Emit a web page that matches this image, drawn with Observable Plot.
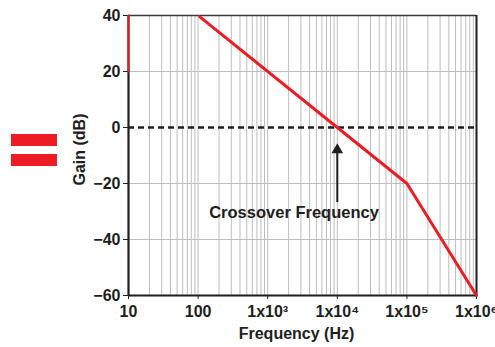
<!DOCTYPE html>
<html>
<head>
<meta charset="utf-8">
<script src="https://cdn.jsdelivr.net/npm/d3@7"></script>
<script src="https://cdn.jsdelivr.net/npm/@observablehq/plot@0.6"></script>
<style>
  html, body { margin: 0; padding: 0; background: #fff; }
  #wrap { position: relative; width: 495px; height: 347px; overflow: hidden; }
  .eq { position: absolute; left: 11px; width: 46px; height: 12px; background: #ed1c24; }
</style>
</head>
<body>
<div id="wrap">
  <div class="eq" style="top:134px"></div>
  <div class="eq" style="top:154px"></div>
</div>
<script>
// Gain curve (asymptotic Bode plot)
const freq = [105, 1e4, 1e5, 1e6];
const gain = [39.6, 0, -20, -60];
// short red segment on the left edge
const edgeFreq = [10, 10];
const edgeGain = [20, 40];
// annotation
const crossFreq = 1e4;
const arrowFrom = -26.8;
const arrowTip = -8;
const noteFreq = 2390;
const noteGain = -30.6;
const noteText = "Crossover Frequency";
// ticks
const xTicks = [10, 100, 1e3, 1e4, 1e5, 1e6];
const xTickLabels = ["10", "100", "1x10³", "1x10⁴", "1x10⁵", "1x10⁶"];
const yTicks = [-60, -40, -20, 0, 20, 40];
const yGrid = [20, -20, -40];

const gridX = [];
for (let e = 1; e < 6; e++) for (let m = 2; m <= 10; m++) gridX.push(m * Math.pow(10, e));

const curve = freq.map((f, i) => ({f, g: gain[i]}));
const edge = edgeFreq.map((f, i) => ({f, g: edgeGain[i]}));
const red = "#ed1c24";
const ink = "#1e1e1e";

const chart = Plot.plot({
  width: 495,
  height: 347,
  marginLeft: 128,
  marginRight: 19,
  marginTop: 15,
  marginBottom: 52,
  x: {type: "log", domain: [10, 1e6]},
  y: {domain: [-60, 40]},
  style: {fontFamily: "'Liberation Sans', Arial, sans-serif", fontWeight: "bold", fontSize: "16px", color: ink, background: "transparent"},
  marks: [
    Plot.ruleX(gridX, {stroke: "#bdbdbd", strokeWidth: 1}),
    Plot.ruleY(yGrid, {stroke: "#bdbdbd", strokeWidth: 1}),
    Plot.ruleY([0], {stroke: ink, strokeWidth: 2.5, strokeDasharray: "6,4"}),
    Plot.axisX({ticks: xTicks, tickFormat: d => xTickLabels[xTicks.indexOf(d)], tickSize: 4, tickPadding: 6, label: null, stroke: ink}),
    Plot.axisY({ticks: yTicks, tickSize: 5, tickPadding: 3, label: null, stroke: ink}),
    Plot.ruleY([40], {stroke: "#3a3a3a", strokeWidth: 1.5}),
    Plot.ruleX([1e6], {stroke: ink, strokeWidth: 2}),
    Plot.ruleX([10], {stroke: ink, strokeWidth: 2.2}),
    Plot.ruleY([-60], {stroke: ink, strokeWidth: 2.2}),
    Plot.line(edge, {x: "f", y: "g", stroke: red, strokeWidth: 2}),
    Plot.line(curve, {x: "f", y: "g", stroke: red, strokeWidth: 3}),
    Plot.ruleX([crossFreq], {y1: arrowFrom, y2: arrowTip - 1, stroke: ink, strokeWidth: 2}),
    Plot.dot([{f: crossFreq, g: arrowTip}], {x: "f", y: "g", symbol: "triangle", r: 4.3, fill: ink, stroke: "none"}),
    Plot.text([{f: noteFreq, g: noteGain}], {x: "f", y: "g", text: () => noteText, fontSize: 16.5, fontWeight: "bold", fill: ink, textAnchor: "middle"}),
    Plot.text(["Gain (dB)"], {frameAnchor: "left", text: d => d, rotate: -90, dx: -49, dy: -6, textAnchor: "middle", lineAnchor: "middle", fontSize: 16, fontWeight: "bold", fill: ink}),
    Plot.text(["Frequency (Hz)"], {frameAnchor: "bottom", text: d => d, dx: -6, dy: 38, textAnchor: "middle", lineAnchor: "middle", fontSize: 16, fontWeight: "bold", fill: ink})
  ]
});
chart.style.position = "absolute";
chart.style.left = "0px";
chart.style.top = "0px";
chart.style.overflow = "visible";
document.getElementById("wrap").appendChild(chart);
</script>
</body>
</html>
